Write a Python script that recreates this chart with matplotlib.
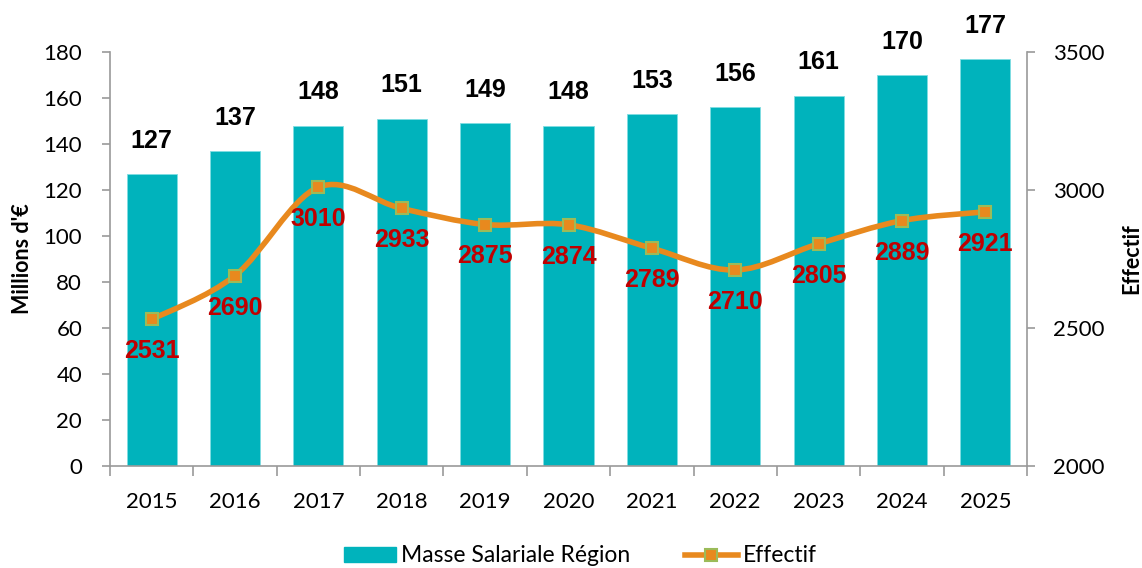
import matplotlib
matplotlib.use("Agg")
import matplotlib.pyplot as plt
from matplotlib.path import Path
from matplotlib.patches import PathPatch
from matplotlib.lines import Line2D
from matplotlib.patches import Patch
import numpy as np

years = ["2015", "2016", "2017", "2018", "2019", "2020", "2021", "2022", "2023", "2024", "2025"]
masse = [127, 137, 148, 151, 149, 148, 153, 156, 161, 170, 177]
effectif = [2531, 2690, 3010, 2933, 2875, 2874, 2789, 2710, 2805, 2889, 2921]

BAR = "#00B3BC"
LINE = "#E8891E"
MEDGE = "#9BBB59"
RED = "#C00000"
AXC = "#9A9A9A"
TICKFONT = "Lato"

fig = plt.figure(figsize=(11.42, 5.68), dpi=100)
ax = fig.add_axes([110/1142, 1-466/568, (1027-110)/1142, (466-52)/568])
ax2 = ax.twinx()

x = np.arange(len(years))
ax.bar(x, masse, width=0.6, color=BAR, edgecolor="#7FDDE2", linewidth=0.6, zorder=2)
ax.set_xlim(-0.5, len(years)-0.5)
ax.set_ylim(0, 180)
ax.set_yticks(range(0, 181, 20))
ax2.set_ylim(2000, 3500)
ax2.set_yticks([2000, 2500, 3000, 3500])

for a in (ax, ax2):
    a.spines["top"].set_visible(False)
    for s in ("left", "right", "bottom"):
        a.spines[s].set_color(AXC)
        a.spines[s].set_linewidth(1.2)
ax.spines["right"].set_visible(False)
ax2.spines["left"].set_visible(False)
ax2.spines["bottom"].set_visible(False)

ax.set_xticks(x)
ax.set_xticklabels(years, fontsize=16, family=TICKFONT)
ax.set_xticks(np.arange(-0.5, len(years), 1), minor=True)
ax.tick_params(axis="x", which="major", length=0, pad=19)
ax.tick_params(axis="x", which="minor", length=7, color=AXC, width=1.2)
ax.tick_params(axis="y", length=6, color=AXC, width=1.2, labelsize=16, pad=14)
for lab in ax.get_yticklabels():
    lab.set_family(TICKFONT)
ax2.tick_params(axis="y", length=6, color=AXC, width=1.2, labelsize=16, pad=13)
for lab in ax2.get_yticklabels():
    lab.set_family(TICKFONT)

ax.set_ylabel("Millions d'€", fontsize=15.5, fontweight="bold", family=TICKFONT)
ax2.set_ylabel("Effectif", fontsize=15.5, fontweight="bold", family=TICKFONT)
ax.yaxis.set_label_coords((33-110)/917, 0.5)
ax2.yaxis.set_label_coords((1121-110)/917, 0.5)

# smoothed line (Excel-like Catmull-Rom bezier through data points)
pts = np.column_stack([x, effectif]).astype(float)
n = len(pts)
verts = [tuple(pts[0])]
codes = [Path.MOVETO]
for i in range(n-1):
    p0 = pts[i-1] if i > 0 else pts[i]
    p1 = pts[i]
    p2 = pts[i+1]
    p3 = pts[i+2] if i+2 < n else pts[i+1]
    c1 = p1 + (p2 - p0) / 6.0
    c2 = p2 - (p3 - p1) / 6.0
    verts += [tuple(c1), tuple(c2), tuple(p2)]
    codes += [Path.CURVE4]*3
ax2.add_patch(PathPatch(Path(verts, codes), facecolor="none", edgecolor=LINE, linewidth=4, capstyle="round", zorder=3))
ax2.plot(x, effectif, linestyle="none", marker="s", markersize=9, markerfacecolor=LINE,
         markeredgecolor=MEDGE, markeredgewidth=1.5, zorder=4)

for xi, v in zip(x, masse):
    ax.annotate(str(v), (xi, v), xytext=(0, 24), textcoords="offset points", ha="center", va="center",
                fontsize=18, fontweight="bold", family="Liberation Sans", color="black")
for xi, v in zip(x, effectif):
    ax2.annotate(str(v), (xi, v), xytext=(0, -23), textcoords="offset points", ha="center", va="center",
                 fontsize=18, fontweight="bold", family="Liberation Sans", color=RED, zorder=5)

handles = [Patch(facecolor=BAR, edgecolor=BAR),
           Line2D([0], [0], color=LINE, linewidth=4, marker="s", markersize=9,
                  markerfacecolor=LINE, markeredgecolor=MEDGE, markeredgewidth=1.5)]
fig.legend(handles, ["Masse Salariale Région", "Effectif"], loc="center", bbox_to_anchor=(580/1142, 1-556/568),
           ncol=2, frameon=False, prop={"family": TICKFONT, "size": 16.5}, handlelength=2.3, handleheight=0.6,
           columnspacing=2.4, handletextpad=0.2)

fig.savefig("out.png", dpi=100)
